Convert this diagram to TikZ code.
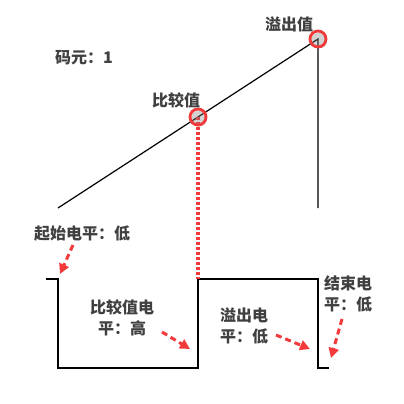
\documentclass[tikz,border=0pt]{standalone}
\usepackage{fontspec}
\setmainfont{Noto Sans CJK SC}
\usetikzlibrary{arrows.meta,shadows}
\definecolor{redc}{HTML}{F23A3A}
\definecolor{txt}{HTML}{404040}
\tikzset{
  wave/.style={draw=black,line width=1.4pt},
  lbl/.style={text=txt,font=\fontsize{16}{21}\selectfont\bfseries,align=center,inner sep=0pt},
  ring/.style={circle,draw=redc,line width=2.8pt,minimum size=16pt,inner sep=0pt,
     drop shadow={opacity=0.35,shadow xshift=1pt,shadow yshift=-1.5pt}},
  redarrow/.style={draw=redc,line width=3pt,dash pattern=on 6pt off 4pt,
     -{Triangle[length=10pt,width=10pt]}},
  reddot/.style={draw=redc,line width=3.5pt,dash pattern=on 2.5pt off 2.5pt}
}
\begin{document}
\begin{tikzpicture}[x=1pt,y=-1pt]
\useasboundingbox (0,0) rectangle (404,404);
% ramp points
\coordinate (rs) at (58,208);
\coordinate (cp) at (198,117);
\coordinate (op) at (318,39);
\coordinate (ob) at (318,208);
% waveform
\coordinate (w1) at (46,279);
\coordinate (w2) at (58,279);
\coordinate (w3) at (58,368);
\coordinate (w4) at (198,368);
\coordinate (w5) at (198,279);
\coordinate (w6) at (318,279);
\coordinate (w7) at (318,368);
\coordinate (w8) at (329,368);
\draw[line width=1.2pt] (rs) -- (op) -- (ob);
\draw[wave] (w1) -- (w2) -- (w3) -- (w4) -- (w5) -- (w6) -- (w7) -- (w8);
\draw[reddot] (cp) -- (w5);
\node[ring] (cmp) at (cp) {};
\node[ring] (ovf) at (op) {};
% labels
\node[lbl] (tovf) at (289,24) {溢出值};
\node[lbl] (tsym) at (84,58) {码元：1};
\node[lbl] (tcmp) at (176,100) {比较值};
\node[lbl] (tstart) at (82,234) {起始电平：低};
\node[lbl] (tcl) at (122,318) {比较值电\\平：高};
\node[lbl] (tol) at (244,326) {溢出电\\平：低};
\node[lbl] (tel) at (348,294) {结束电\\平：低};
% arrows
\coordinate (a1s) at (73,245); \coordinate (a1e) at (60,274);
\coordinate (a2s) at (162,332); \coordinate (a2e) at (190,349);
\coordinate (a3s) at (276,335); \coordinate (a3e) at (310,349);
\coordinate (a4s) at (342,319); \coordinate (a4e) at (331,358);
\draw[redarrow] (a1s) -- (a1e);
\draw[redarrow] (a2s) -- (a2e);
\draw[redarrow] (a3s) -- (a3e);
\draw[redarrow] (a4s) -- (a4e);
\end{tikzpicture}
\end{document}
